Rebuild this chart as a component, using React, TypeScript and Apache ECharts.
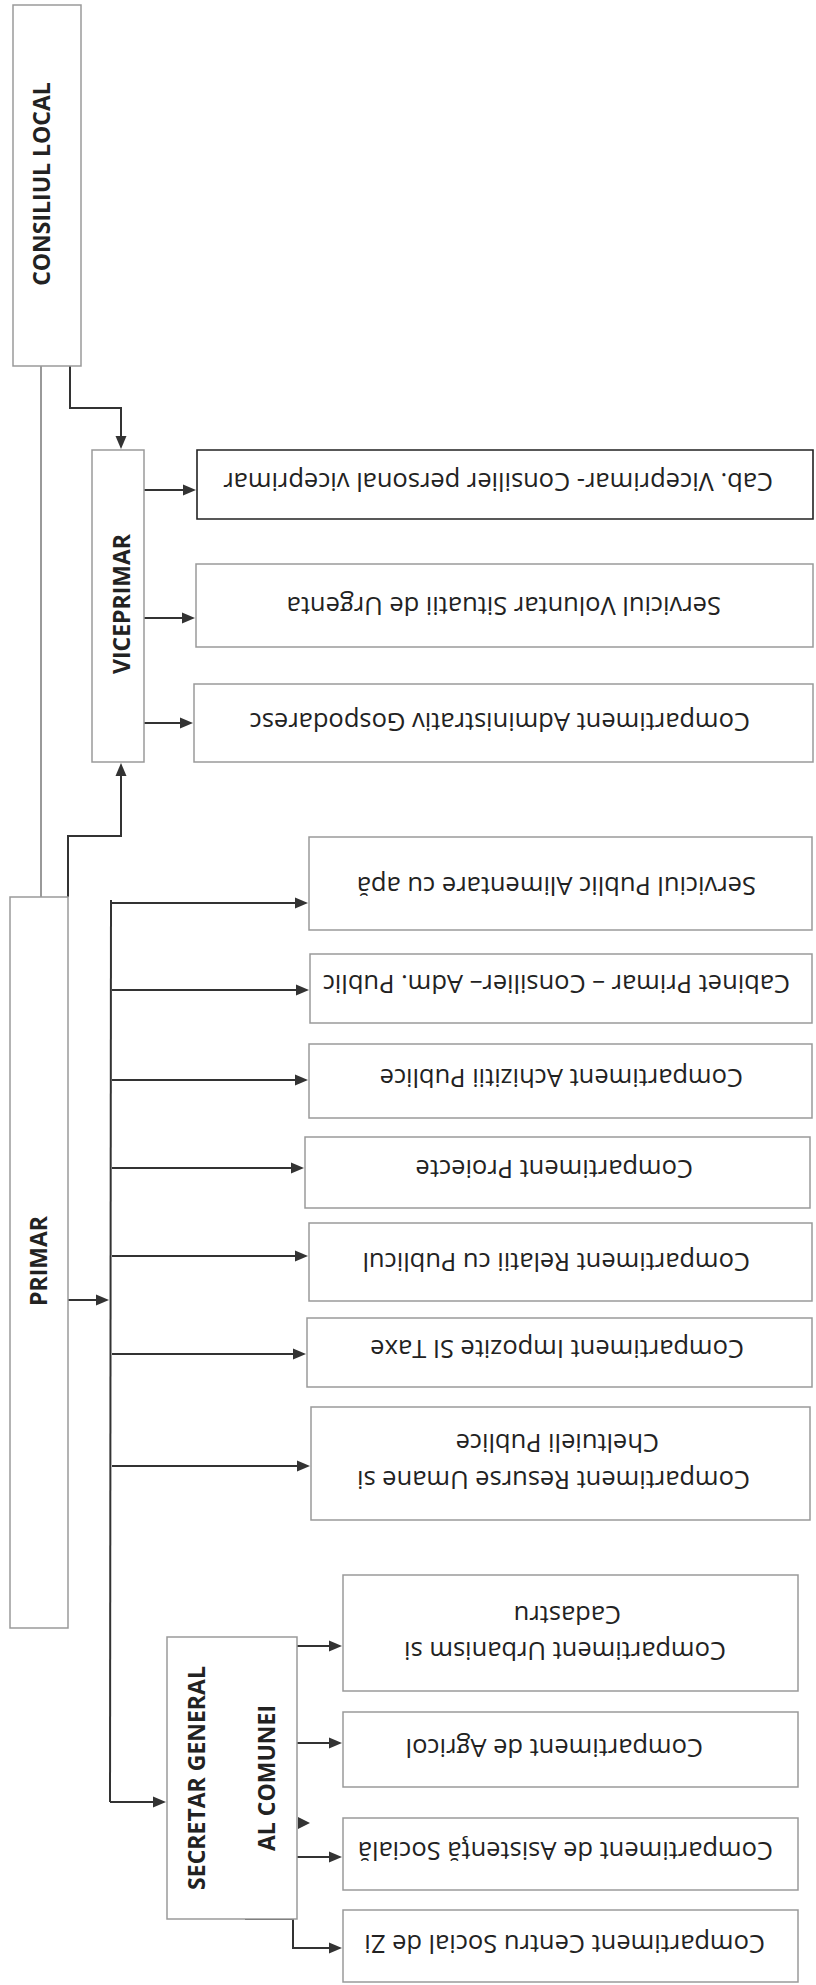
import React, { useEffect, useRef } from "react";
import * as echarts from "echarts";

// ---- Content (labels) ----
const topNodes = ["CONSILIUL LOCAL", "VICEPRIMAR", "PRIMAR"];
const secretarLines = ["SECRETAR GENERAL", "AL COMUNEI"];
const viceUnits = [
  "Cab. Viceprimar- Consilier personal viceprimar",
  "Serviciul Voluntar Situatii de Urgenta",
  "Compartiment Administrativ Gospodaresc",
];
const primarUnits = [
  "Serviciul Public Alimentare cu apă",
  "Cabinet Primar – Consilier– Adm. Public",
  "Compartiment Achizitii Publice",
  "Compartiment Proiecte",
  "Compartiment Relatii cu Publicul",
  "Compartiment Impozite SI Taxe",
  "Compartiment Resurse Umane si\nCheltuieli Publice",
];
const secretarUnits = [
  "Compartiment Urbanism si\nCadastru",
  "Compartiment de Agricol",
  "Compartiment de Asistenţă Socială",
  "Compartiment Centru Social de Zi",
];

// ---- Layout (positions in px) ----
// top nodes: [x, y, w, h, textX, textY]
const topLayout = [
  [13, 5, 68, 361, 41, 184],
  [92, 450, 52, 312, 121, 604],
  [10, 897, 58, 731, 38, 1261],
];
const secretarBox = [167, 1637, 130, 282];
const secretarTitleX = [196, 266];
const secretarTitleY = 1778;
// units: [x, y, w, h]; text anchors: right edge (start of upside-down text) and y per line
const viceLayout = [
  [197, 450, 616, 69],
  [196, 564, 617, 83],
  [194, 684, 619, 78],
];
const viceTextRight = [[773], [721], [750]];
const viceTextY = [[483], [607], [723]];
const viceArrowY = [490, 618, 723];

const primarLayout = [
  [309, 837, 503, 93],
  [310, 954, 502, 69],
  [309, 1044, 503, 74],
  [305, 1137, 505, 71],
  [309, 1223, 503, 78],
  [307, 1318, 505, 69],
  [311, 1407, 499, 113],
];
const primarTextRight = [[756], [790], [743], [693], [750], [744], [750, 659]];
const primarTextY = [[887], [985], [1079], [1170], [1263], [1350], [1481, 1444]];
const primarArrowY = [903, 990, 1080, 1168, 1256, 1354, 1466];

const secretarLayout = [
  [343, 1575, 455, 116],
  [343, 1712, 455, 75],
  [343, 1818, 455, 72],
  [343, 1910, 455, 72],
];
const secretarTextRight = [[726, 621], [703], [773], [765]];
const secretarTextY = [[1652, 1616], [1749], [1852], [1945]];
const secretarArrowY = [1646, 1743, 1857];

const LINE = "#333";
const BOX = "#9a9a9a";
const TEXT = "#222";
const UNIT_FONT = 25.5;

function box(x: number, y: number, w: number, h: number, stroke = BOX, lw = 1.5) {
  return {
    type: "rect",
    z: 2,
    shape: { x, y, width: w, height: h },
    style: { fill: "#fff", stroke, lineWidth: lw },
  };
}

function arrow(points: number[][], color = LINE, lw = 2, head = true) {
  const els: any[] = [];
  const pts = points.map((p) => [p[0], p[1]]);
  if (head) {
    const n = pts.length;
    const tip = pts[n - 1];
    const prev = pts[n - 2];
    const dx = tip[0] - prev[0];
    const dy = tip[1] - prev[1];
    const len = Math.sqrt(dx * dx + dy * dy) || 1;
    const ux = dx / len;
    const uy = dy / len;
    const L = 13;
    const Wd = 5.5;
    const bx = tip[0] - ux * L;
    const by = tip[1] - uy * L;
    pts[n - 1] = [bx + ux * 1, by + uy * 1];
    els.push({
      type: "polygon",
      z: 3,
      shape: {
        points: [
          [tip[0], tip[1]],
          [bx - uy * Wd, by + ux * Wd],
          [bx + uy * Wd, by - ux * Wd],
        ],
      },
      style: { fill: color },
    });
  }
  els.unshift({
    type: "polyline",
    z: 1,
    shape: { points: pts },
    style: { stroke: color, lineWidth: lw, fill: null },
  });
  return els;
}

function boldText(text: string, x: number, y: number) {
  return {
    type: "text",
    z: 4,
    x,
    y,
    rotation: Math.PI / 2,
    style: {
      text,
      fontFamily: '"Open Sans", sans-serif',
      fontWeight: "bold",
      fontSize: 23,
      fill: TEXT,
      align: "center",
      verticalAlign: "middle",
    },
  };
}

// upside-down unit label lines, each anchored at its visual right edge
function unitTexts(label: string, rights: number[], ys: number[]) {
  return label.split("\n").map((line, i) => ({
    type: "text",
    z: 4,
    x: rights[i],
    y: ys[i],
    rotation: Math.PI,
    style: {
      text: line,
      fontFamily: '"Open Sans", sans-serif',
      fontSize: UNIT_FONT,
      fill: TEXT,
      align: "left",
      verticalAlign: "middle",
    },
  }));
}

export default function App() {
  const ref = useRef<HTMLDivElement>(null);
  useEffect(() => {
    document.body.style.margin = "0";
    if (!ref.current) return;
    const chart = echarts.init(ref.current, undefined, { renderer: "svg" });
    const els: any[] = [];

    topNodes.forEach((t, i) => {
      const [x, y, w, h, tx, ty] = topLayout[i];
      els.push(box(x, y, w, h));
      els.push(boldText(t, tx, ty));
    });
    els.push(box(secretarBox[0], secretarBox[1], secretarBox[2], secretarBox[3]));
    secretarLines.forEach((t, i) => els.push(boldText(t, secretarTitleX[i], secretarTitleY)));

    viceUnits.forEach((t, i) => {
      const [x, y, w, h] = viceLayout[i];
      els.push(i === 0 ? box(x, y, w, h, "#222", 1.6) : box(x, y, w, h));
      els.push(...unitTexts(t, viceTextRight[i], viceTextY[i]));
      els.push(...arrow([[144, viceArrowY[i]], [x - 1, viceArrowY[i]]]));
    });
    primarUnits.forEach((t, i) => {
      const [x, y, w, h] = primarLayout[i];
      els.push(box(x, y, w, h));
      els.push(...unitTexts(t, primarTextRight[i], primarTextY[i]));
      els.push(...arrow([[112, primarArrowY[i]], [x - 1, primarArrowY[i]]]));
    });
    secretarUnits.forEach((t, i) => {
      const [x, y, w, h] = secretarLayout[i];
      els.push(box(x, y, w, h));
      els.push(...unitTexts(t, secretarTextRight[i], secretarTextY[i]));
      if (i < secretarArrowY.length) {
        els.push(...arrow([[297, secretarArrowY[i]], [x - 1, secretarArrowY[i]]]));
      }
    });

    // connectors
    els.push(...arrow([[41, 366], [41, 897]], "#555", 1.2, false));
    els.push(...arrow([[70, 366], [70, 408], [121, 408], [121, 449]]));
    els.push(...arrow([[68, 897], [68, 836], [121, 836], [121, 763]]));
    els.push(...arrow([[68, 1300], [109, 1300]]));
    els.push(...arrow([[111, 900], [110, 1802]], LINE, 2, false));
    els.push(...arrow([[110, 1802], [166, 1802]]));
    els.push(...arrow([[245, 1919], [293, 1919], [293, 1948], [342, 1948]]));
    els.push({
      type: "polygon",
      z: 3,
      shape: { points: [[310, 1823], [298, 1817], [298, 1829]] },
      style: { fill: LINE },
    });

    chart.setOption({
      animation: false,
      backgroundColor: "#fff",
      graphic: { elements: els },
    });
    return () => chart.dispose();
  }, []);
  return <div ref={ref} style={{ width: 816, height: 1985 }} />;
}
